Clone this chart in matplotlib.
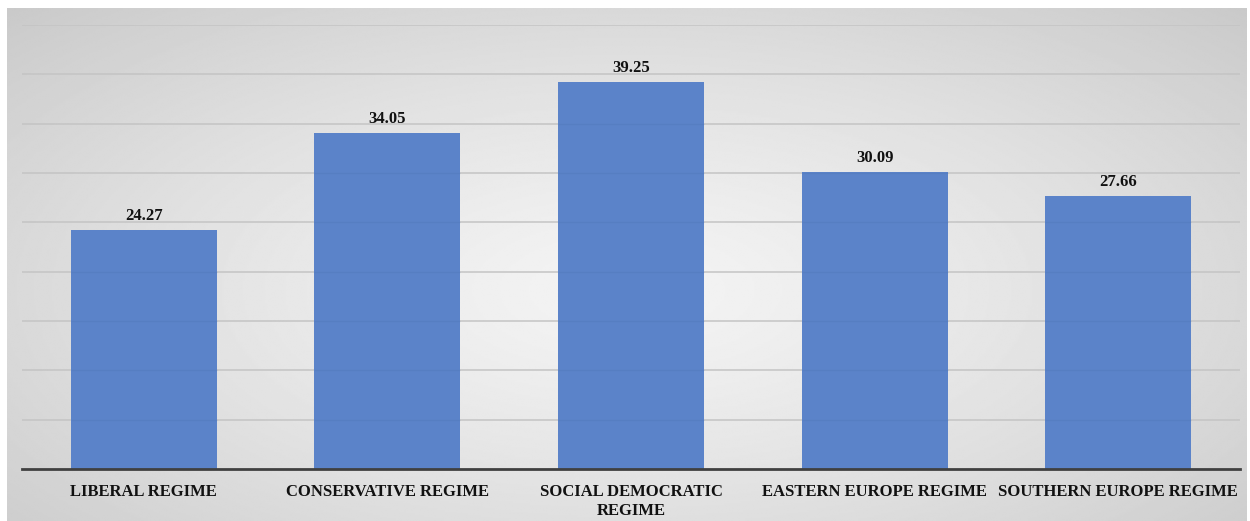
import numpy as np
import matplotlib.pyplot as plt

categories = ["LIBERAL REGIME", "CONSERVATIVE REGIME", "SOCIAL DEMOCRATIC\nREGIME",
              "EASTERN EUROPE REGIME", "SOUTHERN EUROPE REGIME"]
values = [24.27, 34.05, 39.25, 30.09, 27.66]

plt.rcParams['font.family'] = ['Liberation Serif', 'DejaVu Serif']

fig = plt.figure(figsize=(12.5, 5.21), dpi=100)

# radial grey gradient background
bg = fig.add_axes([7/1250, 0, 1240/1250, 1 - 8/521])
yy, xx = np.mgrid[1:-1:300j, -1:1:700j]
r = np.sqrt(xx**2 + ((yy + 0.1) / 1.1)**2) / np.sqrt(2)
shade = 0.955 - 0.165 * np.clip(r, 0, 1) ** 1.3
bg.imshow(shade, cmap='gray', vmin=0, vmax=1,
          aspect='auto', extent=[0, 1, 0, 1], interpolation='bilinear')
bg.axis('off')

ax = fig.add_axes([22/1250, 52/521, 1218/1250, (469 - 25)/521])
ax.patch.set_alpha(0)
x = np.arange(len(categories))
bars = ax.bar(x, values, width=0.6, color='#5b83c9', zorder=3)
grid_vals = np.arange(5, 46, 5)
# faint grid showing through the bars
for b in bars:
    g = grid_vals[grid_vals < b.get_height()]
    ax.hlines(g, b.get_x(), b.get_x() + b.get_width(), color='#3a5a90',
              linewidth=1, alpha=0.12, zorder=3.5)
for xi, v in zip(x, values):
    ax.text(xi, v + 0.6, f"{v:.2f}", ha='center', va='bottom',
            fontsize=12, fontweight='bold', color='#111111')

ax.set_xlim(-0.5, len(categories) - 0.5)
ax.set_ylim(0, 45)
ax.set_yticks(grid_vals)
ax.yaxis.grid(True, color='#c4c4c4', linewidth=1.1)
ax.tick_params(axis='y', left=False, labelleft=False)
ax.tick_params(axis='x', length=0, pad=11)
ax.set_xticks(x)
ax.set_xticklabels(categories, fontsize=12, fontweight='bold', color='#111111',
                   linespacing=1.2, va='top')
for s in ['top', 'right', 'left']:
    ax.spines[s].set_visible(False)
ax.spines['bottom'].set_color('#404040')
ax.spines['bottom'].set_linewidth(2)
ax.spines['bottom'].set_zorder(4)

fig.savefig('out.png', dpi=100)
